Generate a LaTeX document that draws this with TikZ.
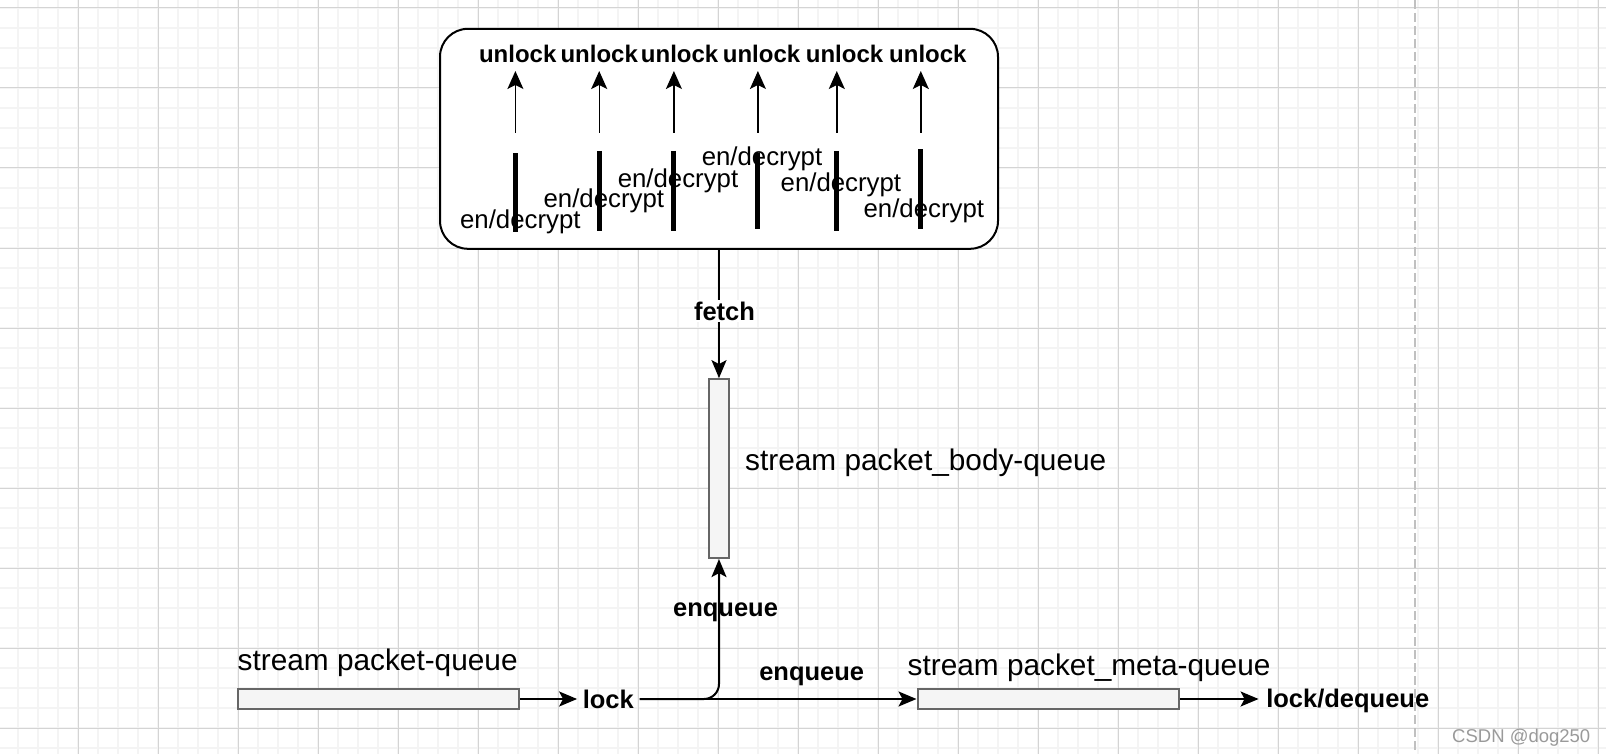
\documentclass[tikz,border=0pt]{standalone}
\usepackage{fontspec}
\setmainfont{Liberation Sans}
\usetikzlibrary{arrows.meta,calc}
\definecolor{gridminor}{HTML}{F4F4F4}
\definecolor{gridmajor}{HTML}{D4D4D4}
\definecolor{qfill}{HTML}{F5F5F5}
\definecolor{qdraw}{HTML}{666666}
\definecolor{dashgray}{HTML}{C0C0C0}
\definecolor{wmgray}{HTML}{9A9A9A}
\newcommand\fntBold{\fontsize{25.5}{30}\selectfont\bfseries}
\newcommand\fntUnlock{\fontsize{24}{28}\selectfont\bfseries}
\newcommand\fntReg{\fontsize{29.8}{34}\selectfont}
\newcommand\fntEnc{\fontsize{25.8}{30}\selectfont}
\tikzset{
  minorline/.style={draw=gridminor, line width=1.6pt},
  majorline/.style={draw=gridmajor, line width=1pt},
  queuebox/.style={draw=qdraw, fill=qfill, line width=2pt, inner sep=0pt},
  edge/.style={draw=black, line width=2pt},
  arr/.style={-{Stealth[length=18pt,width=15pt,inset=4pt]}},
  thinarr/.style={draw=black, line width=1.4pt, -{Stealth[length=18pt,width=16pt,inset=4pt]}},
  barline/.style={draw=black, line width=5pt},
  blabel/.style={font=\fntBold, inner ysep=0pt, inner xsep=5.5pt, anchor=base},
  ulabel/.style={font=\fntUnlock, inner sep=0pt, anchor=base},
  elabel/.style={font=\fntEnc, inner sep=0pt, anchor=base},
  rlabel/.style={font=\fntReg, inner sep=0pt, anchor=base west},
}
\begin{document}
\begin{tikzpicture}[x=1pt,y=-1pt]
\useasboundingbox (0,0) rectangle (1606,754);
\fill[white] (0,0) rectangle (1606,754);
% grid
\foreach \gx in {18,38,...,1598} \draw[minorline] (\gx,0) -- (\gx,754);
\foreach \gy in {8,28,...,748} \draw[minorline] (0,\gy) -- (1606,\gy);
\foreach \gx in {-2,78,...,1598} \draw[majorline] (\gx,0) -- (\gx,754);
\foreach \gy in {8,88,...,748} \draw[majorline] (0,\gy) -- (1606,\gy);
% dashed separator
\draw[dashgray, line width=1.5pt, dash pattern=on 9pt off 4pt] (1415,0) -- (1415,754);
% rounded box
\node[draw=black, fill=white, line width=2pt, rounded corners=28pt, minimum width=558pt, minimum height=220pt, inner sep=0pt] (box) at (719,138.8) {};
% unlock labels
\node[ulabel] (u1) at (517.7,63) {unlock};
\node[ulabel] (u2) at (599.2,63) {unlock};
\node[ulabel] (u3) at (679.6,63) {unlock};
\node[ulabel] (u4) at (761.5,63) {unlock};
\node[ulabel] (u5) at (844.5,63) {unlock};
\node[ulabel] (u6) at (927.9,63) {unlock};
% thin arrows
\foreach \i/\ax in {1/515.4,2/599.2,3/673.9,4/757.9,5/836.8,6/920.8}{
  \coordinate (ab\i) at (\ax,133);
  \coordinate (at\i) at (\ax,71);
  \draw[thinarr] (ab\i) -- (at\i);
}
% thick bars
\foreach \i/\bx/\bt/\bb in {1/515.4/153.3/232.3,2/599.2/151/230.7,3/673.9/151/230.7,4/757.9/152.7/229,5/836.8/151/230.7,6/920.8/149.3/229}{
  \coordinate (bs\i) at (\bx,\bt);
  \coordinate (be\i) at (\bx,\bb);
  \draw[barline] (bs\i) -- (be\i);
}
% en/decrypt labels
\node[elabel] (e1) at (520.3,228.5) {en/decrypt};
\node[elabel] (e2) at (603.8,207.8) {en/decrypt};
\node[elabel] (e3) at (678,187.5) {en/decrypt};
\node[elabel] (e4) at (762,166) {en/decrypt};
\node[elabel] (e5) at (840.9,191.8) {en/decrypt};
\node[elabel] (e6) at (923.8,217.5) {en/decrypt};
% body queue
\node[queuebox, minimum width=20.5pt, minimum height=179pt] (body) at (719,468.6) {};
\node[rlabel] (bodylbl) at (745,470) {stream packet\_body-queue};
% fetch edge
\draw[edge, arr] (box.south) -- (body.north);
\node[blabel, fill=white, inner xsep=1pt, inner ysep=2pt] (fetch) at (724.5,320) {fetch};
% packet queue
\node[queuebox, minimum width=280.7pt, minimum height=19.4pt] (pq) at (378.7,699) {};
\node[rlabel] (pqlbl) at (237.5,670) {stream packet-queue};
\node[blabel] (lock) at (608.3,708.3) {lock};
\draw[edge, arr] (pq.east) -- (pq.east -| lock.west);
% meta queue
\node[queuebox, minimum width=261.5pt, minimum height=19.4pt] (meta) at (1048.25,699) {};
\node[rlabel] (metalbl) at (907.5,675) {stream packet\_meta-queue};
\node[blabel, inner xsep=7.5pt] (lockdq) at (1347.75,707.5) {lock/dequeue};
% edges from lock
\draw[edge, arr, rounded corners=15pt] (lock.east |- meta.west) -| (body.south);
\draw[edge, arr] (lock.east |- meta.west) -- (meta.west);
\draw[edge, arr] (meta.east) -- (meta.east -| lockdq.west);
\node[blabel, inner xsep=0pt] (enq1) at (725.5,616.5) {enqueue};
\node[blabel, inner xsep=0pt] (enq2) at (811.7,680) {enqueue};
% watermark
\node[font=\fontsize{18.5}{22}\selectfont, text=wmgray, inner sep=0pt, anchor=base west] (wm) at (1452,742) {CSDN @dog250};
\end{tikzpicture}
\end{document}
